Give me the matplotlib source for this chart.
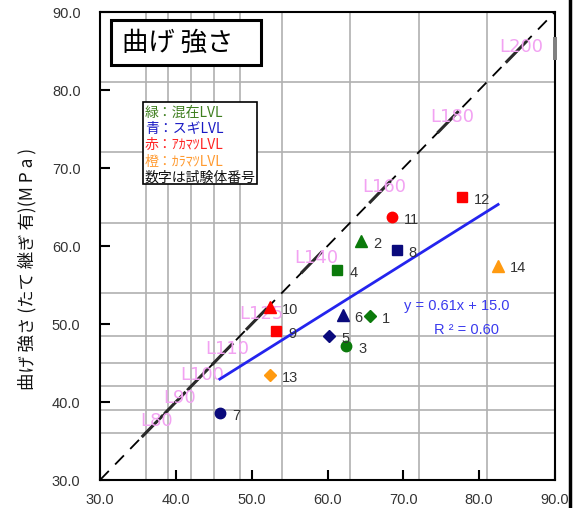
import matplotlib
matplotlib.use("Agg")
import matplotlib.pyplot as plt
from matplotlib.patches import Rectangle
from matplotlib.lines import Line2D

plt.rcParams['font.family'] = ['Noto Sans CJK JP', 'DejaVu Sans']
NARROW = ['Liberation Sans', 'DejaVu Sans']

# test specimens: x = estimated strength, y = measured bending strength (finger-jointed)
specimen_no = list(range(1, 15))
est_strength = [65.6, 64.4, 62.5, 61.3, 60.2, 62.0, 45.8, 69.1, 53.2, 52.4, 68.5, 77.7, 52.4, 82.5]
bend_strength = [51.0, 60.6, 47.2, 56.9, 48.5, 51.2, 38.55, 59.5, 49.1, 52.2, 63.7, 66.3, 43.5, 57.5]
species = ['mix'] * 4 + ['sugi'] * 4 + ['akamatsu'] * 4 + ['karamatsu'] * 2
shapes = ['D', '^', 'o', 's', 'D', '^', 'o', 's', 's', '^', 'o', 's', 'D', '^']

# lamina grades and their bending strength
grade_names = ['L80', 'L90', 'L100', 'L110', 'L125', 'L140', 'L160', 'L180', 'L200']
grade_strength = [36.0, 39.0, 42.0, 45.0, 48.5, 54.0, 63.0, 72.0, 81.0]

# linear fit
slope, intercept, r2 = 0.61, 15.0, 0.60

ticks = [30, 40, 50, 60, 70, 80, 90]

point_colors = {'mix': '#0b7a0b', 'sugi': '#0a0a7c', 'akamatsu': '#ff0000', 'karamatsu': '#ff9a10'}
legend_lines = [('緑：混在LVL', '#3f7f1f'), ('青：スギLVL', '#1a1ac4'),
                ('赤：ｱｶﾏﾂLVL', '#ff2424'), ('橙：ｶﾗﾏﾂLVL', '#ff9a30'),
                ('数字は試験体番号', '#111111')]

fig = plt.figure(figsize=(5.75, 5.08), dpi=100)
W, H = 575.0, 508.0
ax = fig.add_axes([100 / W, 1 - 480 / H, 455 / W, 468 / H])
ax.set_xlim(30, 90)
ax.set_ylim(30, 90)

# grade grid
for g in grade_strength:
    ax.axvline(g, color='#b0b0b0', lw=1.2, zorder=0)
    ax.axhline(g, color='#b0b0b0', lw=1.2, zorder=0)

# 1:1 line
ax.plot([30, 90], [30, 90], color='black', lw=1.3, ls=(0, (7, 5)), zorder=2)

# grade labels along the 1:1 line
bounds = grade_strength[1:] + [90.0]
for name, lo, hi in zip(grade_names, grade_strength, bounds):
    c = (lo + hi) / 2
    ax.plot([c - 2.0, c + 0.8], [c - 2.0, c + 0.8], color='#2a2a2a', lw=2.2,
            solid_capstyle='butt', zorder=2)
    ax.text(c, c, name, color='#f2a2f2', fontsize=13, family='DejaVu Sans',
            ha='center', va='center', zorder=3)

# regression line over the data range
x0, x1 = min(est_strength), max(est_strength)
ax.plot([x0, x1], [slope * x0 + intercept, slope * x1 + intercept],
        color='#2424ee', lw=2.0, zorder=4)
ax.text(77.1, 52.3, f'y = {slope:.2f}x + {intercept:.1f}',
        color='#3a3aee', fontsize=10.5, family=NARROW, ha='center', va='center')
ax.text(78.3, 49.2, f'R ² = {r2:.2f}',
        color='#3a3aee', fontsize=10.5, family=NARROW, ha='center', va='center')

# specimens
for n, x, y, sp, m in zip(specimen_no, est_strength, bend_strength, species, shapes):
    ms = {'s': 7.5, 'o': 7.5, 'D': 6.5, '^': 8}[m]
    ax.plot(x, y, marker=m, color=point_colors[sp], ms=ms, ls='none', zorder=5)
    ax.annotate(str(n), (x, y), xytext=(12, -3), textcoords='offset pixels',
                fontsize=10.5, family=NARROW, color='#333333', va='center', ha='left', zorder=5)

ax.set_xticks(ticks)
ax.set_yticks(ticks)
ax.set_xticklabels([f'{t:.1f}' for t in ticks], family=NARROW, fontsize=10.5, color='#333333')
ax.set_yticklabels([f'{t:.1f}' for t in ticks], family=NARROW, fontsize=10.5, color='#333333')
ax.tick_params(axis='both', direction='in', length=7, width=1.5, color='black')
ax.tick_params(axis='x', pad=9)
ax.tick_params(axis='y', pad=14)
for s in ax.spines.values():
    s.set_linewidth(1.5)
    s.set_color('black')

fig.text(27 / W, 1 - 269 / H, '曲げ 強さ (たて 継ぎ 有)(M P a )', rotation=90,
         fontsize=12.5, ha='center', va='center', color='#111111')

# title box
fig.add_artist(Rectangle((111 / W, 1 - 65 / H), 150 / W, 45 / H, transform=fig.transFigure,
                         facecolor='white', edgecolor='black', lw=2.2, zorder=10))
fig.text(178 / W, 1 - 43 / H, '曲げ 強さ', fontsize=19, ha='center', va='center', zorder=11)

# legend box
fig.add_artist(Rectangle((143 / W, 1 - 184 / H), 114 / W, 82 / H, transform=fig.transFigure,
                         facecolor='white', edgecolor='black', lw=1.2, zorder=10))
for i, (txt, col) in enumerate(legend_lines):
    fig.text(145 / W, 1 - (113 + 16.2 * i) / H, txt, color=col, fontsize=10,
             ha='left', va='center', zorder=11)

# window edge marks
fig.add_artist(Rectangle((553 / W, 1 - 60 / H), 4 / W, 23 / H, transform=fig.transFigure,
                         facecolor='#808080', edgecolor='none', zorder=10))
fig.add_artist(Line2D([570 / W, 570 / W], [0, 1], transform=fig.transFigure, color='black', lw=2.5))

fig.savefig('out.png', dpi=100)
